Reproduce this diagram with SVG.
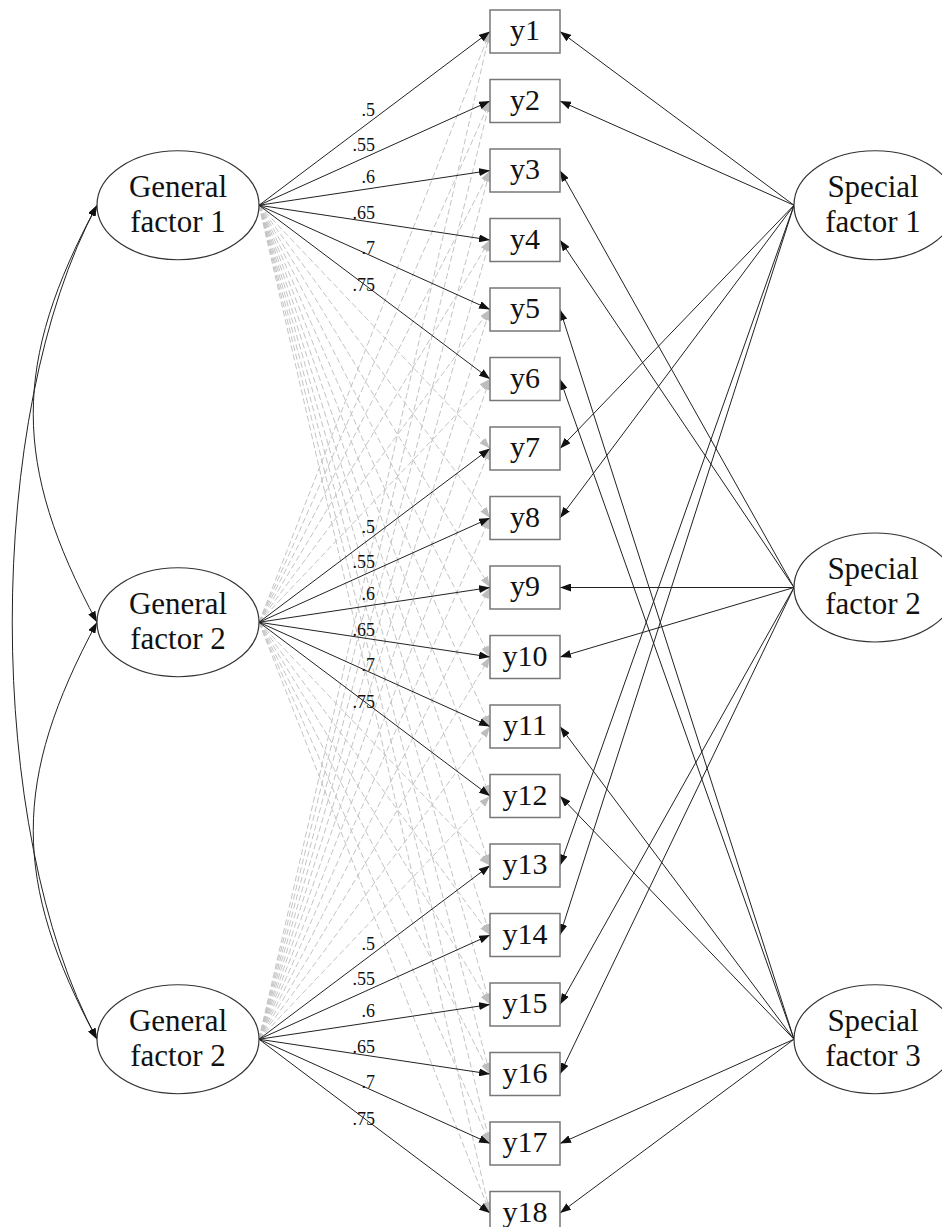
<svg xmlns="http://www.w3.org/2000/svg" width="942" height="1227" viewBox="0 0 942 1227">
<style>
.bg{fill:#fff}
.lat{fill:#fff;stroke:#333;stroke-width:1.2}
.obs{fill:#fff;stroke:#777;stroke-width:1.5}
.nt{font-family:"Liberation Serif",serif;font-size:30px;fill:#111;text-anchor:middle}
.et{font-size:31px}
.lb{font-family:"Liberation Serif",serif;font-size:18px;fill:#111;text-anchor:end}
.sol{stroke:#222;stroke-width:1;fill:none;marker-end:url(#ah)}
.das{stroke:#c4c4c4;stroke-width:1;stroke-dasharray:6 3;fill:none;marker-end:url(#ahg)}
.cov{stroke:#222;stroke-width:1;fill:none;marker-start:url(#ahs);marker-end:url(#ah)}
</style>
<defs>
<marker id="ah" markerUnits="userSpaceOnUse" markerWidth="11" markerHeight="8" refX="11" refY="4" orient="auto"><path d="M0,0 L11,4 L0,8 z" fill="#111"/></marker>
<marker id="ahs" markerUnits="userSpaceOnUse" markerWidth="11" markerHeight="8" refX="11" refY="4" orient="auto-start-reverse"><path d="M0,0 L11,4 L0,8 z" fill="#111"/></marker>
<marker id="ahg" markerUnits="userSpaceOnUse" markerWidth="11" markerHeight="8" refX="11" refY="4" orient="auto"><path d="M0,0 L11,4 L0,8 z" fill="#bdbdbd"/></marker>
</defs>
<rect class="bg" x="0" y="0" width="942" height="1227"/>
<g id="connectors">
<g id="dashed">
<line class="das" x1="259" y1="205.25" x2="490" y2="448.5"/>
<line class="das" x1="259" y1="205.25" x2="490" y2="518"/>
<line class="das" x1="259" y1="205.25" x2="490" y2="587.5"/>
<line class="das" x1="259" y1="205.25" x2="490" y2="657"/>
<line class="das" x1="259" y1="205.25" x2="490" y2="726.5"/>
<line class="das" x1="259" y1="205.25" x2="490" y2="796"/>
<line class="das" x1="259" y1="205.25" x2="490" y2="865.5"/>
<line class="das" x1="259" y1="205.25" x2="490" y2="935"/>
<line class="das" x1="259" y1="205.25" x2="490" y2="1004.5"/>
<line class="das" x1="259" y1="205.25" x2="490" y2="1074"/>
<line class="das" x1="259" y1="205.25" x2="490" y2="1143.5"/>
<line class="das" x1="259" y1="205.25" x2="490" y2="1213"/>
<line class="das" x1="259" y1="622.25" x2="490" y2="31.5"/>
<line class="das" x1="259" y1="622.25" x2="490" y2="101"/>
<line class="das" x1="259" y1="622.25" x2="490" y2="170.5"/>
<line class="das" x1="259" y1="622.25" x2="490" y2="240"/>
<line class="das" x1="259" y1="622.25" x2="490" y2="309.5"/>
<line class="das" x1="259" y1="622.25" x2="490" y2="379"/>
<line class="das" x1="259" y1="622.25" x2="490" y2="865.5"/>
<line class="das" x1="259" y1="622.25" x2="490" y2="935"/>
<line class="das" x1="259" y1="622.25" x2="490" y2="1004.5"/>
<line class="das" x1="259" y1="622.25" x2="490" y2="1074"/>
<line class="das" x1="259" y1="622.25" x2="490" y2="1143.5"/>
<line class="das" x1="259" y1="622.25" x2="490" y2="1213"/>
<line class="das" x1="259" y1="1039.25" x2="490" y2="31.5"/>
<line class="das" x1="259" y1="1039.25" x2="490" y2="101"/>
<line class="das" x1="259" y1="1039.25" x2="490" y2="170.5"/>
<line class="das" x1="259" y1="1039.25" x2="490" y2="240"/>
<line class="das" x1="259" y1="1039.25" x2="490" y2="309.5"/>
<line class="das" x1="259" y1="1039.25" x2="490" y2="379"/>
<line class="das" x1="259" y1="1039.25" x2="490" y2="448.5"/>
<line class="das" x1="259" y1="1039.25" x2="490" y2="518"/>
<line class="das" x1="259" y1="1039.25" x2="490" y2="587.5"/>
<line class="das" x1="259" y1="1039.25" x2="490" y2="657"/>
<line class="das" x1="259" y1="1039.25" x2="490" y2="726.5"/>
<line class="das" x1="259" y1="1039.25" x2="490" y2="796"/>
</g>
<g id="general-loadings">
<line class="sol" x1="259" y1="205.25" x2="490" y2="31.5"/>
<line class="sol" x1="259" y1="205.25" x2="490" y2="101"/>
<line class="sol" x1="259" y1="205.25" x2="490" y2="170.5"/>
<line class="sol" x1="259" y1="205.25" x2="490" y2="240"/>
<line class="sol" x1="259" y1="205.25" x2="490" y2="309.5"/>
<line class="sol" x1="259" y1="205.25" x2="490" y2="379"/>
<line class="sol" x1="259" y1="622.25" x2="490" y2="448.5"/>
<line class="sol" x1="259" y1="622.25" x2="490" y2="518"/>
<line class="sol" x1="259" y1="622.25" x2="490" y2="587.5"/>
<line class="sol" x1="259" y1="622.25" x2="490" y2="657"/>
<line class="sol" x1="259" y1="622.25" x2="490" y2="726.5"/>
<line class="sol" x1="259" y1="622.25" x2="490" y2="796"/>
<line class="sol" x1="259" y1="1039.25" x2="490" y2="865.5"/>
<line class="sol" x1="259" y1="1039.25" x2="490" y2="935"/>
<line class="sol" x1="259" y1="1039.25" x2="490" y2="1004.5"/>
<line class="sol" x1="259" y1="1039.25" x2="490" y2="1074"/>
<line class="sol" x1="259" y1="1039.25" x2="490" y2="1143.5"/>
<line class="sol" x1="259" y1="1039.25" x2="490" y2="1213"/>
</g>
<g id="special-loadings">
<line class="sol" x1="794" y1="205.25" x2="560" y2="31.5"/>
<line class="sol" x1="794" y1="205.25" x2="560" y2="101"/>
<line class="sol" x1="794" y1="205.25" x2="560" y2="448.5"/>
<line class="sol" x1="794" y1="205.25" x2="560" y2="518"/>
<line class="sol" x1="794" y1="205.25" x2="560" y2="865.5"/>
<line class="sol" x1="794" y1="205.25" x2="560" y2="935"/>
<line class="sol" x1="794" y1="587.5" x2="560" y2="170.5"/>
<line class="sol" x1="794" y1="587.5" x2="560" y2="240"/>
<line class="sol" x1="794" y1="587.5" x2="560" y2="587.5"/>
<line class="sol" x1="794" y1="587.5" x2="560" y2="657"/>
<line class="sol" x1="794" y1="587.5" x2="560" y2="1004.5"/>
<line class="sol" x1="794" y1="587.5" x2="560" y2="1074"/>
<line class="sol" x1="794" y1="1039.25" x2="560" y2="309.5"/>
<line class="sol" x1="794" y1="1039.25" x2="560" y2="379"/>
<line class="sol" x1="794" y1="1039.25" x2="560" y2="726.5"/>
<line class="sol" x1="794" y1="1039.25" x2="560" y2="796"/>
<line class="sol" x1="794" y1="1039.25" x2="560" y2="1143.5"/>
<line class="sol" x1="794" y1="1039.25" x2="560" y2="1213"/>
</g>
<g id="covariances">
<path class="cov" d="M97,205.25 C12,363 12,464 97,622.25"/>
<path class="cov" d="M97,622.25 C12,780 12,881 97,1039.25"/>
<path class="cov" d="M97,205.25 C-16,415 -16,829 97,1039.25"/>
</g>
<g id="labels">
<text class="lb" x="375" y="116">.5</text>
<text class="lb" x="375" y="151">.55</text>
<text class="lb" x="375" y="183">.6</text>
<text class="lb" x="375" y="219">.65</text>
<text class="lb" x="375" y="254">.7</text>
<text class="lb" x="375" y="291">.75</text>
<text class="lb" x="375" y="533">.5</text>
<text class="lb" x="375" y="568">.55</text>
<text class="lb" x="375" y="600">.6</text>
<text class="lb" x="375" y="636">.65</text>
<text class="lb" x="375" y="671">.7</text>
<text class="lb" x="375" y="708">.75</text>
<text class="lb" x="375" y="950">.5</text>
<text class="lb" x="375" y="985">.55</text>
<text class="lb" x="375" y="1017">.6</text>
<text class="lb" x="375" y="1053">.65</text>
<text class="lb" x="375" y="1088">.7</text>
<text class="lb" x="375" y="1125">.75</text>
</g>
</g>
<g id="GF1"><ellipse class="lat" cx="178" cy="205.25" rx="81" ry="54.5"/><text class="nt et" x="178" y="197">General</text><text class="nt et" x="178" y="232">factor 1</text></g>
<g id="GF2"><ellipse class="lat" cx="178" cy="622.25" rx="81" ry="54.5"/><text class="nt et" x="178" y="614">General</text><text class="nt et" x="178" y="649">factor 2</text></g>
<g id="GF3"><ellipse class="lat" cx="178" cy="1039.25" rx="81" ry="54.5"/><text class="nt et" x="178" y="1031">General</text><text class="nt et" x="178" y="1066">factor 2</text></g>
<g id="SF1"><ellipse class="lat" cx="875" cy="205.25" rx="81" ry="54.5"/><text class="nt et" x="873" y="197">Special</text><text class="nt et" x="873" y="232">factor 1</text></g>
<g id="SF2"><ellipse class="lat" cx="875" cy="587.5" rx="81" ry="54.5"/><text class="nt et" x="873" y="579">Special</text><text class="nt et" x="873" y="614">factor 2</text></g>
<g id="SF3"><ellipse class="lat" cx="875" cy="1039.25" rx="81" ry="54.5"/><text class="nt et" x="873" y="1031">Special</text><text class="nt et" x="873" y="1066">factor 3</text></g>
<g id="y1"><rect class="obs" x="490" y="10" width="70" height="43"/><text class="nt" x="525" y="40">y1</text></g>
<g id="y2"><rect class="obs" x="490" y="79.5" width="70" height="43"/><text class="nt" x="525" y="109.5">y2</text></g>
<g id="y3"><rect class="obs" x="490" y="149" width="70" height="43"/><text class="nt" x="525" y="179">y3</text></g>
<g id="y4"><rect class="obs" x="490" y="218.5" width="70" height="43"/><text class="nt" x="525" y="248.5">y4</text></g>
<g id="y5"><rect class="obs" x="490" y="288" width="70" height="43"/><text class="nt" x="525" y="318">y5</text></g>
<g id="y6"><rect class="obs" x="490" y="357.5" width="70" height="43"/><text class="nt" x="525" y="387.5">y6</text></g>
<g id="y7"><rect class="obs" x="490" y="427" width="70" height="43"/><text class="nt" x="525" y="457">y7</text></g>
<g id="y8"><rect class="obs" x="490" y="496.5" width="70" height="43"/><text class="nt" x="525" y="526.5">y8</text></g>
<g id="y9"><rect class="obs" x="490" y="566" width="70" height="43"/><text class="nt" x="525" y="596">y9</text></g>
<g id="y10"><rect class="obs" x="490" y="635.5" width="70" height="43"/><text class="nt" x="525" y="665.5">y10</text></g>
<g id="y11"><rect class="obs" x="490" y="705" width="70" height="43"/><text class="nt" x="525" y="735">y11</text></g>
<g id="y12"><rect class="obs" x="490" y="774.5" width="70" height="43"/><text class="nt" x="525" y="804.5">y12</text></g>
<g id="y13"><rect class="obs" x="490" y="844" width="70" height="43"/><text class="nt" x="525" y="874">y13</text></g>
<g id="y14"><rect class="obs" x="490" y="913.5" width="70" height="43"/><text class="nt" x="525" y="943.5">y14</text></g>
<g id="y15"><rect class="obs" x="490" y="983" width="70" height="43"/><text class="nt" x="525" y="1013">y15</text></g>
<g id="y16"><rect class="obs" x="490" y="1052.5" width="70" height="43"/><text class="nt" x="525" y="1082.5">y16</text></g>
<g id="y17"><rect class="obs" x="490" y="1122" width="70" height="43"/><text class="nt" x="525" y="1152">y17</text></g>
<g id="y18"><rect class="obs" x="490" y="1191.5" width="70" height="43"/><text class="nt" x="525" y="1221.5">y18</text></g>
</svg>
